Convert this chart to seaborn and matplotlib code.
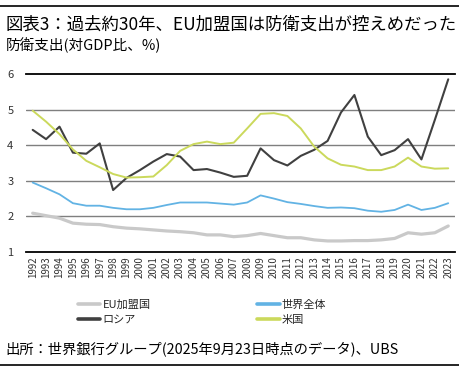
import numpy as np
import pandas as pd
import matplotlib
matplotlib.use("Agg")
import matplotlib.pyplot as plt
from matplotlib.lines import Line2D
import seaborn as sns

# DATA
years = list(range(1992, 2024))

eu = [2.09, 2.02, 1.95, 1.81, 1.78, 1.77, 1.71, 1.67, 1.65, 1.62, 1.59, 1.57,
      1.54, 1.48, 1.48, 1.43, 1.46, 1.52, 1.46, 1.40, 1.40, 1.34, 1.31, 1.31,
      1.32, 1.32, 1.34, 1.38, 1.54, 1.50, 1.54, 1.73]
world = [2.95, 2.79, 2.62, 2.37, 2.30, 2.30, 2.24, 2.20, 2.20, 2.24, 2.32, 2.39,
         2.39, 2.39, 2.36, 2.33, 2.39, 2.59, 2.50, 2.40, 2.35, 2.29, 2.24, 2.25,
         2.23, 2.16, 2.13, 2.18, 2.33, 2.18, 2.24, 2.37]
russia = [4.43, 4.17, 4.52, 3.79, 3.76, 4.05, 2.74, 3.08, 3.30, 3.54, 3.75, 3.68,
          3.30, 3.33, 3.23, 3.11, 3.14, 3.91, 3.58, 3.43, 3.70, 3.87, 4.12, 4.92,
          5.41, 4.24, 3.72, 3.86, 4.17, 3.60, 4.71, 5.85]
usa = [4.97, 4.66, 4.31, 3.88, 3.56, 3.38, 3.19, 3.09, 3.10, 3.12, 3.44, 3.84,
       4.03, 4.10, 4.03, 4.07, 4.47, 4.88, 4.90, 4.82, 4.47, 3.96, 3.63, 3.45,
       3.40, 3.30, 3.30, 3.40, 3.65, 3.40, 3.34, 3.35]

series_names = ["EU加盟国", "ロシア", "世界全体", "米国"]
series_values = [eu, russia, world, usa]
colors = ["#c9c9c9", "#404040", "#62b3e4", "#cbd95c"]
widths = [2.3, 1.5, 1.3, 1.4]

y_ticks = [1, 2, 3, 4, 5, 6]

# STYLE
sns.set_theme(style="white")
plt.rcParams['font.family'] = ['Noto Sans CJK JP', 'DejaVu Sans']

df = pd.DataFrame({
    "idx": np.tile(np.arange(len(years)), len(series_names)),
    "value": np.concatenate(series_values),
    "series": np.repeat(series_names, len(years)),
})

fig = plt.figure(figsize=(4.6, 3.71), dpi=100)
ax = fig.add_axes([0.0565, 0.3208, 0.9325, 0.4798])

# gridlines
for t in y_ticks[1:-1]:
    ax.axhline(t, color="#7f7f7f", lw=1.0, zorder=0)

for name, col, lw in zip(series_names, colors, widths):
    sns.lineplot(
        data=df[df["series"] == name],
        x="idx",
        y="value",
        color=col,
        linewidth=lw,
        ax=ax,
        legend=False,
    )

ax.set_xlim(-0.5, len(years) - 0.5)
ax.set_ylim(1, 6)
ax.set_xticks(np.arange(len(years)))
ax.set_xticklabels([str(y) for y in years], rotation=90, fontsize=7, color="#333333")
ax.set_yticks(y_ticks)
ax.set_yticklabels([str(t) for t in y_ticks], fontsize=8, color="#333333")
ax.tick_params(axis="both", length=0)
ax.tick_params(axis="y", pad=9)
ax.tick_params(axis="x", pad=3)
ax.set_xlabel("")
ax.set_ylabel("")

for s in ["left", "right"]:
    ax.spines[s].set_visible(False)
for s in ["top", "bottom"]:
    ax.spines[s].set_color("black")
    ax.spines[s].set_linewidth(1.3)

# LEGEND
handles = [Line2D([0], [0], color=c, lw=2.6) for c in colors]
fig.legend(
    handles,
    series_names,
    ncol=2,
    loc="upper left",
    bbox_to_anchor=(0.17, 0.192),
    bbox_transform=fig.transFigure,
    frameon=False,
    fontsize=8,
    handlelength=2.0,
    handletextpad=0.2,
    columnspacing=9.6,
    labelspacing=0.45,
    borderaxespad=0,
    borderpad=0,
)

# TITLES
fig.text(0.012, 0.933, "図表3：過去約30年、EU加盟国は防衛支出が控えめだった",
         fontsize=12.5, va="center", ha="left", color="black")
fig.text(0.012, 0.879, "防衛支出(対GDP比、%)",
         fontsize=10.5, va="center", ha="left", color="black")
fig.text(0.012, 0.059, "出所：世界銀行グループ(2025年9月23日時点のデータ)、UBS",
         fontsize=10.3, va="center", ha="left", color="black")

fig.add_artist(Line2D([0.0, 1.0], [0.984, 0.984], color="black", lw=1.2,
                      transform=fig.transFigure))
fig.add_artist(Line2D([0.0, 1.0], [0.016, 0.016], color="black", lw=1.2,
                      transform=fig.transFigure))

fig.savefig("out.png", dpi=100)
